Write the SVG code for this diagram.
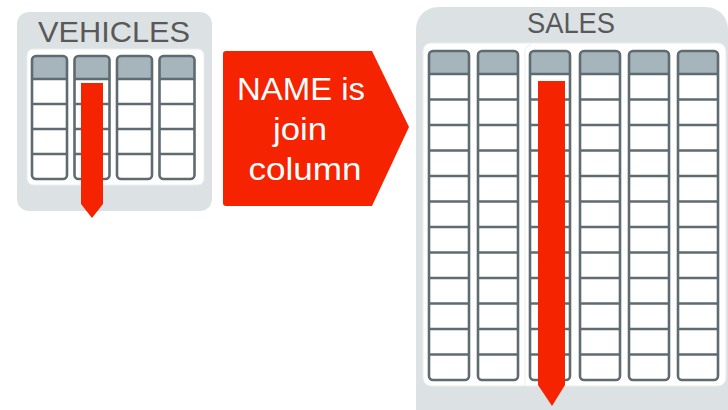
<svg xmlns="http://www.w3.org/2000/svg" width="728" height="410" viewBox="0 0 728 410">
<style>
.panel{fill:#dce2e4}
.inner{fill:#ffffff;stroke:#e8ecee;stroke-width:1}
.hdr{fill:#a6b4bb}
.col{fill:none;stroke:#5e6b71;stroke-width:2.6}
.row{stroke:#5e6b71;stroke-width:2.4;fill:none}
.title{font-family:"Liberation Sans",Arial,sans-serif;font-size:30px;fill:#595959;text-anchor:middle}
.lbl{font-family:"Liberation Sans",Arial,sans-serif;font-size:31px;fill:#ffffff;text-anchor:middle}
.red{fill:#f52300}
</style>
<rect width="728" height="410" fill="#ffffff"/>
<g id="vehicles">
<rect class="panel" x="17" y="12" width="195" height="199" rx="12"/>
<rect class="inner" x="27" y="49" width="177" height="136" rx="6"/>
<text class="title" x="114" y="42" textLength="152" lengthAdjust="spacingAndGlyphs">VEHICLES</text>
<g id="vcols">
<path class="hdr" d="M32,79 V60 a4,4 0 0 1 4,-4 H63 a4,4 0 0 1 4,4 V79 Z"/>
<path class="hdr" d="M74.5,79 V60 a4,4 0 0 1 4,-4 H105.5 a4,4 0 0 1 4,4 V79 Z"/>
<path class="hdr" d="M117,79 V60 a4,4 0 0 1 4,-4 H148 a4,4 0 0 1 4,4 V79 Z"/>
<path class="hdr" d="M159.5,79 V60 a4,4 0 0 1 4,-4 H190.5 a4,4 0 0 1 4,4 V79 Z"/>
<path class="row" d="M32,79H67M32,104H67M32,129H67M32,154H67M74.5,79H109.5M74.5,104H109.5M74.5,129H109.5M74.5,154H109.5M117,79H152M117,104H152M117,129H152M117,154H152M159.5,79H194.5M159.5,104H194.5M159.5,129H194.5M159.5,154H194.5"/>
<rect class="col" x="32" y="56" width="35" height="123" rx="4"/>
<rect class="col" x="74.5" y="56" width="35" height="123" rx="4"/>
<rect class="col" x="117" y="56" width="35" height="123" rx="4"/>
<rect class="col" x="159.5" y="56" width="35" height="123" rx="4"/>
</g>
</g>
<g id="sales">
<rect class="panel" x="416" y="7" width="312" height="430" rx="22"/>
<rect class="inner" x="423" y="43" width="303" height="343" rx="8"/>
<path d="M525,386 V51 a6,6 0 0 1 6,-6" fill="none" stroke="#e8ecee" stroke-width="1"/>
<text class="title" x="571" y="33" textLength="88" lengthAdjust="spacingAndGlyphs">SALES</text>
<g id="scols">
<path class="hdr" d="M429,74 V55 a4,4 0 0 1 4,-4 H465 a4,4 0 0 1 4,4 V74 Z"/>
<path class="hdr" d="M478,74 V55 a4,4 0 0 1 4,-4 H514 a4,4 0 0 1 4,4 V74 Z"/>
<path class="hdr" d="M530,74 V55 a4,4 0 0 1 4,-4 H566 a4,4 0 0 1 4,4 V74 Z"/>
<path class="hdr" d="M580,74 V55 a4,4 0 0 1 4,-4 H616 a4,4 0 0 1 4,4 V74 Z"/>
<path class="hdr" d="M629,74 V55 a4,4 0 0 1 4,-4 H665 a4,4 0 0 1 4,4 V74 Z"/>
<path class="hdr" d="M678,74 V55 a4,4 0 0 1 4,-4 H714 a4,4 0 0 1 4,4 V74 Z"/>
<g id="srows">
<path class="row" d="M429,74H469M429,99.5H469M429,125H469M429,150.5H469M429,176H469M429,201.5H469M429,227H469M429,252.5H469M429,278H469M429,303.5H469M429,329H469M429,354.5H469"/>
<path class="row" transform="translate(49,0)" d="M429,74H469M429,99.5H469M429,125H469M429,150.5H469M429,176H469M429,201.5H469M429,227H469M429,252.5H469M429,278H469M429,303.5H469M429,329H469M429,354.5H469"/>
<path class="row" transform="translate(101,0)" d="M429,74H469M429,99.5H469M429,125H469M429,150.5H469M429,176H469M429,201.5H469M429,227H469M429,252.5H469M429,278H469M429,303.5H469M429,329H469M429,354.5H469"/>
<path class="row" transform="translate(151,0)" d="M429,74H469M429,99.5H469M429,125H469M429,150.5H469M429,176H469M429,201.5H469M429,227H469M429,252.5H469M429,278H469M429,303.5H469M429,329H469M429,354.5H469"/>
<path class="row" transform="translate(200,0)" d="M429,74H469M429,99.5H469M429,125H469M429,150.5H469M429,176H469M429,201.5H469M429,227H469M429,252.5H469M429,278H469M429,303.5H469M429,329H469M429,354.5H469"/>
<path class="row" transform="translate(249,0)" d="M429,74H469M429,99.5H469M429,125H469M429,150.5H469M429,176H469M429,201.5H469M429,227H469M429,252.5H469M429,278H469M429,303.5H469M429,329H469M429,354.5H469"/>
</g>
<rect class="col" x="429" y="51" width="40" height="329" rx="4"/>
<rect class="col" x="478" y="51" width="40" height="329" rx="4"/>
<rect class="col" x="530" y="51" width="40" height="329" rx="4"/>
<rect class="col" x="580" y="51" width="40" height="329" rx="4"/>
<rect class="col" x="629" y="51" width="40" height="329" rx="4"/>
<rect class="col" x="678" y="51" width="40" height="329" rx="4"/>
</g>
</g>
<g id="label">
<path class="red" d="M226,51 H372 L409,127 L372,206 H226 a3,3 0 0 1 -3,-3 V54 a3,3 0 0 1 3,-3 Z"/>
<text class="lbl" x="301" y="100" textLength="128" lengthAdjust="spacingAndGlyphs">NAME is</text>
<text class="lbl" x="300" y="140" textLength="54" lengthAdjust="spacingAndGlyphs">join</text>
<text class="lbl" x="305" y="180" textLength="113" lengthAdjust="spacingAndGlyphs">column</text>
</g>
<g id="connectors">
<polygon class="red" points="81,83 103,83 103,204 92,218 81,204"/>
<polygon class="red" points="538,81 565,81 565,385 552,406 538,385"/>
</g>
</svg>
